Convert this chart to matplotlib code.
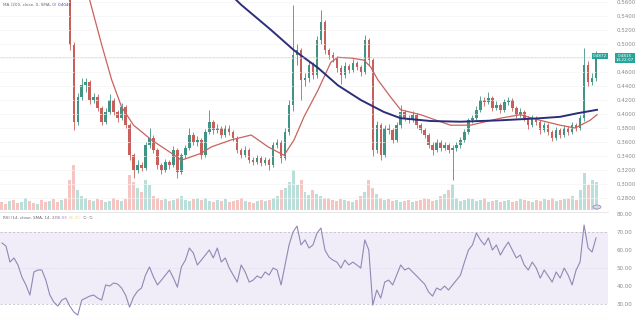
import numpy as np
import matplotlib.pyplot as plt

# Candles (one every bar, first visible candle is bar 17)
candle_start = 17
first_open = 0.620
closes = [0.499, 0.389, 0.424, 0.441, 0.446, 0.420, 0.424, 0.409, 0.389, 0.403,
          0.420, 0.403, 0.394, 0.410, 0.384, 0.341, 0.320, 0.327, 0.323, 0.356,
          0.366, 0.349, 0.327, 0.320, 0.331, 0.327, 0.349, 0.317, 0.341, 0.351,
          0.370, 0.360, 0.363, 0.341, 0.374, 0.389, 0.377, 0.380, 0.370, 0.380,
          0.374, 0.366, 0.349, 0.341, 0.349, 0.334, 0.331, 0.337, 0.330, 0.334,
          0.327, 0.356, 0.360, 0.337, 0.374, 0.413, 0.484, 0.491, 0.449, 0.451,
          0.470, 0.456, 0.506, 0.531, 0.491, 0.484, 0.480, 0.466, 0.456, 0.469,
          0.463, 0.473, 0.467, 0.460, 0.506, 0.477, 0.349, 0.384, 0.341, 0.380,
          0.377, 0.363, 0.384, 0.403, 0.394, 0.391, 0.399, 0.384, 0.377, 0.370,
          0.356, 0.349, 0.360, 0.351, 0.356, 0.349, 0.351, 0.356, 0.363, 0.374,
          0.391, 0.394, 0.406, 0.420, 0.417, 0.423, 0.409, 0.413, 0.406, 0.417,
          0.420, 0.409, 0.399, 0.403, 0.394, 0.384, 0.394, 0.389, 0.377, 0.384,
          0.374, 0.366, 0.377, 0.370, 0.380, 0.374, 0.384, 0.380, 0.394, 0.470,
          0.446, 0.451, 0.482]
highs = [0.630, 0.503, 0.430, 0.452, 0.452, 0.449, 0.430, 0.428, 0.412, 0.408,
         0.428, 0.423, 0.406, 0.416, 0.413, 0.387, 0.345, 0.334, 0.332, 0.360,
         0.380, 0.370, 0.352, 0.330, 0.336, 0.335, 0.354, 0.352, 0.345, 0.356,
         0.380, 0.374, 0.368, 0.366, 0.378, 0.406, 0.392, 0.386, 0.383, 0.385,
         0.384, 0.377, 0.369, 0.352, 0.354, 0.352, 0.338, 0.341, 0.340, 0.338,
         0.337, 0.360, 0.365, 0.363, 0.380, 0.420, 0.556, 0.500, 0.494, 0.458,
         0.476, 0.474, 0.512, 0.549, 0.534, 0.495, 0.488, 0.483, 0.470, 0.474,
         0.472, 0.478, 0.476, 0.470, 0.513, 0.509, 0.480, 0.390, 0.387, 0.385,
         0.386, 0.380, 0.388, 0.413, 0.406, 0.398, 0.404, 0.402, 0.387, 0.380,
         0.373, 0.360, 0.364, 0.363, 0.360, 0.359, 0.356, 0.360, 0.367, 0.378,
         0.395, 0.399, 0.411, 0.426, 0.424, 0.432, 0.426, 0.418, 0.416, 0.421,
         0.425, 0.423, 0.412, 0.408, 0.406, 0.397, 0.399, 0.397, 0.392, 0.388,
         0.387, 0.377, 0.381, 0.380, 0.384, 0.383, 0.388, 0.387, 0.399, 0.494,
         0.476, 0.458, 0.490]
lows = [0.492, 0.377, 0.385, 0.420, 0.432, 0.415, 0.416, 0.404, 0.384, 0.386,
        0.400, 0.398, 0.389, 0.391, 0.380, 0.335, 0.309, 0.316, 0.318, 0.320,
        0.352, 0.344, 0.322, 0.314, 0.317, 0.322, 0.324, 0.309, 0.314, 0.337,
        0.348, 0.356, 0.355, 0.336, 0.338, 0.371, 0.372, 0.373, 0.366, 0.367,
        0.370, 0.362, 0.344, 0.337, 0.338, 0.330, 0.327, 0.328, 0.326, 0.327,
        0.320, 0.325, 0.352, 0.330, 0.334, 0.370, 0.405, 0.470, 0.420, 0.440,
        0.446, 0.450, 0.452, 0.500, 0.486, 0.478, 0.474, 0.460, 0.443, 0.452,
        0.458, 0.460, 0.463, 0.455, 0.457, 0.470, 0.340, 0.345, 0.335, 0.338,
        0.372, 0.358, 0.360, 0.380, 0.390, 0.387, 0.388, 0.380, 0.373, 0.366,
        0.352, 0.341, 0.346, 0.347, 0.348, 0.345, 0.306, 0.347, 0.352, 0.360,
        0.371, 0.387, 0.390, 0.403, 0.412, 0.414, 0.405, 0.406, 0.402, 0.403,
        0.413, 0.405, 0.395, 0.396, 0.390, 0.379, 0.381, 0.385, 0.372, 0.374,
        0.370, 0.361, 0.363, 0.366, 0.367, 0.370, 0.371, 0.376, 0.377, 0.390,
        0.440, 0.442, 0.447]

# Volume, one value per bar from bar 0 (bars before the candles carry their own direction)
volume = [8, 6, 9, 10, 7, 8, 12, 9, 7, 6, 10, 8, 9, 11, 8, 10, 12,
          30, 45, 20, 14, 12, 10, 9, 11, 10, 8, 9, 12, 10, 9, 11,
          35, 28, 22, 18, 30, 25, 14, 12, 10, 11, 9, 10, 12, 14, 10, 9, 11, 12,
          10, 12, 9, 8, 10, 9, 11, 8, 9, 10, 12, 9, 8, 7, 9, 10,
          9, 10, 12, 14, 20, 22, 28, 40, 25, 30, 18, 15, 20, 16, 14, 12,
          12, 10, 9, 11, 10, 9, 8, 10, 14, 18, 30, 22, 16, 12, 10, 11, 9, 10,
          8, 9, 10, 8, 9, 10, 12, 11, 9, 10, 14, 16, 20, 26, 12, 9,
          10, 12, 11, 9, 10, 12, 8, 9, 10, 8, 9, 10, 8, 9, 11, 10,
          9, 8, 10, 9, 11, 10, 12, 9, 10, 11, 12, 14, 10, 20, 37, 25, 30, 28]
pre_volume_dir = "ddudduuddudduddud"

rsi = [63.9, 62.2, 53.3, 55.6, 51.7, 45.0, 40.6, 35.0, 47.8, 48.9,
       48.9, 43.3, 35.0, 31.1, 28.9, 32.2, 33.3, 28.9, 25.6, 23.9,
       32.2, 33.3, 34.4, 35.0, 33.3, 32.2, 40.6, 40.0, 41.7, 41.1,
       38.9, 35.0, 28.3, 33.9, 37.2, 38.9, 46.1, 50.6, 45.0, 40.6,
       43.3, 46.1, 48.9, 44.4, 39.4, 50.6, 54.4, 61.1, 58.3, 51.7,
       54.4, 57.2, 60.0, 55.6, 61.1, 53.3, 55.6, 50.0, 46.1, 42.2,
       51.7, 47.8, 42.2, 43.3, 45.6, 44.4, 47.8, 46.1, 50.0, 48.9,
       40.6, 51.7, 62.8, 70.0, 73.3, 62.8, 65.6, 61.1, 62.8, 69.4,
       72.2, 60.0, 56.1, 54.4, 53.3, 50.0, 54.4, 51.7, 53.3, 51.7,
       50.0, 65.6, 60.0, 29.4, 37.8, 33.3, 42.2, 43.3, 40.6, 46.1,
       51.7, 48.9, 50.0, 47.8, 45.6, 43.3, 41.1, 36.7, 34.4, 38.9,
       37.8, 40.0, 37.8, 40.6, 43.3, 46.1, 53.3, 60.0, 62.8, 69.4,
       65.6, 62.8, 66.7, 60.0, 62.8, 57.2, 61.1, 64.4, 60.0, 55.6,
       57.2, 51.7, 48.9, 53.3, 50.0, 44.4, 48.9, 45.6, 42.2, 47.8,
       44.4, 50.0, 46.1, 40.6, 48.9, 53.3, 73.9, 61.1, 58.9, 66.7]

# Moving averages (bar, price)
ma_fast_bar = [21, 25, 27.5, 30, 33, 37.5, 42.5, 45, 50, 52.5, 57.5, 62.5, 66.75,
               70.75, 73.25, 75.75, 79.25, 82.5, 84.25, 87.5, 90.75, 92.5, 94.25,
               97.5, 100, 105, 112.5, 117.5, 125, 130, 135, 140, 143.75, 147.5, 149.25]
ma_fast_val = [0.584, 0.499, 0.449, 0.410, 0.384, 0.363, 0.344, 0.334, 0.344, 0.353,
               0.363, 0.370, 0.353, 0.341, 0.363, 0.396, 0.434, 0.474, 0.481, 0.480,
               0.477, 0.467, 0.449, 0.424, 0.406, 0.399, 0.384, 0.384, 0.394, 0.399,
               0.391, 0.384, 0.380, 0.391, 0.399]
ma200_bar = [58, 60, 62.5, 67.5, 73.25, 79.25, 84.25, 90, 95.75, 100, 107.5, 115,
             125, 135, 140, 144.25, 149.25]
ma200_val = [0.567, 0.556, 0.544, 0.520, 0.491, 0.466, 0.441, 0.420, 0.403, 0.394,
             0.390, 0.389, 0.391, 0.394, 0.396, 0.401, 0.406]

price_ticks = [0.28, 0.30, 0.32, 0.34, 0.36, 0.38, 0.40, 0.42, 0.44, 0.46,
               0.48, 0.50, 0.52, 0.54, 0.56]
rsi_ticks = [30, 40, 50, 60, 70, 80]
last_price = 0.4815

up_col, dn_col = '#3f9484', '#c85f5b'
vup_col, vdn_col = '#a6d8d0', '#f4b6b2'
label_col = '#8a8a8a'

W, H = 640, 319
fig = plt.figure(figsize=(W / 100, H / 100), dpi=100)


def px_axes(x0, y0, x1, y1):
    return fig.add_axes([x0 / W, 1 - y1 / H, (x1 - x0) / W, (y1 - y0) / H])


# volume underneath the price panel
axv = px_axes(0, 0, 608, 212)
axv.axis('off')
n_bars = len(volume)
opens = [first_open] + closes[:-1]
vcols = [vup_col if d == 'u' else vdn_col for d in pre_volume_dir]
vcols += [vup_col if c >= o else vdn_col for o, c in zip(opens, closes)]
axv.bar(np.arange(n_bars), volume, width=0.75, color=vcols, alpha=0.8)
axv.set_xlim(-0.5, 152)
axv.set_ylim(-2, 210)

ax = px_axes(0, 0, 608, 212)
ax.set_facecolor('none')
for k, (o, h, l, c) in enumerate(zip(opens, highs, lows, closes)):
    x = candle_start + k
    col = up_col if c >= o else dn_col
    ax.vlines(x, l, h, color=col, lw=0.6)
    ax.bar(x, max(abs(c - o), 0.0015), bottom=min(o, c), width=0.62, color=col)

ax.plot(ma_fast_bar, ma_fast_val, color='#c9635e', lw=0.9)
ax.plot(ma200_bar, ma200_val, color='#2b2f7a', lw=1.4)
ax.axhline(last_price, color='#9fcfc7', lw=0.5, ls=(0, (1, 1)))

ax.set_xlim(-0.5, 152)
ax.set_ylim(0.26, 0.5629)
ax.set_yticks(price_ticks)
# the 0.4800 label sits under the last-price tag
ax.set_yticklabels(['' if abs(t - 0.48) < 1e-9 else f'{t:.4f}' for t in price_ticks])
ax.yaxis.tick_right()
ax.tick_params(axis='y', length=0, pad=6, labelsize=4, labelcolor=label_col)
ax.set_xticks([])
ax.grid(axis='y', color='#f4f4f4', lw=0.5)
for s in ax.spines.values():
    s.set_visible(False)

# RSI panel
axr = px_axes(0, 212, 608, 319)
xr = np.arange(len(rsi))
axr.axhspan(30, 70, color='#f0ecf8', lw=0)
axr.axhline(70, color='#b9b3c6', lw=0.5, ls=(0, (3, 3)))
axr.axhline(30, color='#b9b3c6', lw=0.5, ls=(0, (3, 3)))
axr.axhline(50, color='#cfcad9', lw=0.4, ls=(0, (1, 2)))
axr.plot(xr, rsi, color='#9089b5', lw=0.8)
axr.set_xlim(-0.5, 152)
axr.set_ylim(21.7, 81.1)
axr.set_yticks(rsi_ticks)
axr.set_yticklabels([f'{t:.2f}' for t in rsi_ticks])
axr.yaxis.tick_right()
axr.tick_params(axis='y', length=0, pad=6, labelsize=4, labelcolor=label_col)
axr.set_xticks([])
for s in axr.spines.values():
    s.set_visible(False)
axr.spines['top'].set_visible(True)
axr.spines['top'].set_color('#e4e4e4')
axr.spines['top'].set_linewidth(0.6)
axr.spines['bottom'].set_visible(True)
axr.spines['bottom'].set_color('#d8d8d8')

# legends / labels
fig.text(3 / W, 1 - 5 / H, 'MA (200, close, 0, SMA, 0)', fontsize=3.0,
         color='#6a6a6a', va='center')
fig.text(58 / W, 1 - 5 / H, '0.4040', fontsize=3.0, color='#3949ab', va='center')
fig.text(3 / W, 1 - 218 / H, 'RSI (14, close, SMA, 14, 2)', fontsize=3.0,
         color='#6a6a6a', va='center')
fig.text(56 / W, 1 - 218 / H, '58.03', fontsize=3.0, color='#9a86c8', va='center')
fig.text(69 / W, 1 - 218 / H, '66.25', fontsize=3.0, color='#f0dc8a', va='center')
fig.text(83 / W, 1 - 218 / H, '\u2205  \u2205', fontsize=3.0, color='#7a7a7a', va='center')

# last price tags
fig.text(625 / W, 1 - 58 / H, '0.4815\n14:22:07', fontsize=3.0, color='white',
         ha='center', va='center', linespacing=1.1,
         bbox=dict(boxstyle='square,pad=0.3', fc='#26a69a', ec='none'))
fig.text(600 / W, 1 - 56 / H, '0.4872', fontsize=3.0, color='white',
         ha='center', va='center',
         bbox=dict(boxstyle='square,pad=0.25', fc='#26a69a', ec='none'))
fig.patches.append(plt.Circle((597 / W, 1 - 207 / H), 4 / W, transform=fig.transFigure,
                              fc='#ddd6ee', ec='#8e86b3', lw=0.5))

fig.savefig('out.png', dpi=100)
